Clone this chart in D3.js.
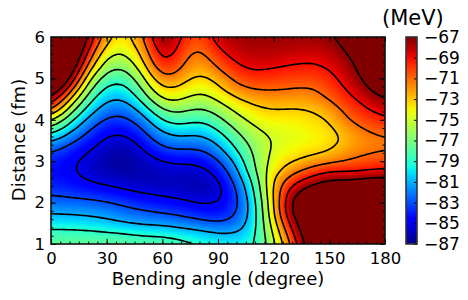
<!DOCTYPE html>
<html lang='en'>
<head>
<meta charset="utf-8">
<style>
html, body { margin: 0; background: #fff; }
svg { display: block; }
text { font-family: "DejaVu Sans"; fill: #000; }
.axis path { display: none; }
.axis line { stroke: #000; stroke-width: 1; }
.axis text { font-size: 16.5px; }
.cb text { font-size: 17px; }
.level { fill: none; stroke: #000; stroke-width: 1.6px; }
</style>
</head>
<body>
<svg width="468" height="300"></svg>
<script src="https://d3js.org/d3.v7.min.js"></script>
<script>
// distance runs 1 -> 6 fm in .25 steps, one list per bending angle
var angles = d3.range(0, 190, 10),
    distances = d3.range(1, 6.25, 0.25);

var a0 = [-77.7,-78.4,-79.8,-81.1,-82.3,-83.3,-84,-84.3,-83.9,-82.8,-80.6,-77.7,-74.3,-70,-66.7,-64,-62,-61,-60,-60,-60],
    a10 = [-77.6,-78.4,-79.8,-81.2,-82.5,-83.5,-84.3,-84.7,-84.6,-84,-82.6,-80.6,-78.5,-76,-73,-69.2,-66,-64,-63,-62,-62],
    a20 = [-77.5,-78.5,-80,-81.4,-82.5,-83.9,-85,-85.7,-85.6,-84.9,-84,-83,-81.6,-80,-78.5,-76.9,-75,-72.3,-70.2,-68.4,-66.8],
    a30 = [-77.5,-78.7,-80.4,-81.7,-82.8,-84.3,-85.4,-86,-86.3,-86.1,-85.5,-84.6,-83.5,-82.3,-81,-79.7,-78.4,-77,-75.7,-74.3,-73],
    a40 = [-77.7,-78.8,-81,-82.3,-83.4,-84.8,-85.7,-86.4,-86.7,-86.4,-85.8,-84.7,-83.6,-82.5,-81.2,-80,-78.7,-77.2,-75.7,-74.6,-74.1],
    a50 = [-77.9,-79.3,-81.4,-82.7,-84,-85.2,-86,-86.2,-85.9,-85.2,-84.2,-83.1,-82,-80.2,-78.3,-76.7,-75.4,-74,-73,-72.2,-71.2],
    a60 = [-78,-79.2,-81.5,-83,-84.4,-85.4,-86,-85.7,-85.1,-83.4,-82,-80.6,-78.5,-76.6,-74.4,-72.6,-70.6,-68.8,-67.4,-66.5,-65.5],
    a70 = [-78.3,-79.8,-82,-83.4,-84.7,-85.6,-86,-85.6,-84.8,-83.1,-81.6,-79.7,-78,-76.3,-74.7,-73.4,-72.1,-71,-70.4,-69.7,-69.3],
    a80 = [-79,-80.2,-82.4,-84,-85.2,-86,-86.3,-85.8,-84.8,-83.4,-82,-80.6,-79.1,-77.5,-76.1,-74.9,-73.9,-72.9,-72.3,-71.6,-70.9],
    a90 = [-79.5,-80.9,-83,-84.5,-85.1,-86,-85.6,-84.6,-83.4,-82,-80.6,-79.1,-77.6,-76.2,-74.8,-73.5,-72.4,-70.9,-69.8,-68.7,-67.7],
    a100 = [-79.6,-81,-82.5,-83.3,-83.8,-83.4,-82.6,-81.7,-80.6,-79,-77.9,-76.8,-75.6,-74.5,-73.2,-71.4,-70.3,-69.2,-68.5,-67.9,-67.5],
    a110 = [-79.5,-79.7,-79.9,-80,-79.7,-79,-78.5,-76.8,-76.5,-76.4,-76,-75.2,-74.3,-73.4,-72.2,-70.8,-69.6,-68.6,-68,-67.6,-67.4],
    a120 = [-75.6,-74.9,-74,-73.2,-73,-72.6,-72.4,-73.7,-74.2,-74.5,-74.8,-74.4,-73.8,-72.9,-71.9,-70.8,-69.9,-69,-68.2,-67.7,-67.4],
    a130 = [-70.7,-69.3,-67.8,-66,-66,-67.3,-69.5,-71.5,-73.2,-74,-74.4,-74.4,-74,-73.2,-72.1,-71,-70,-69.3,-68.4,-67.8,-67.4],
    a140 = [-65,-64,-64,-64,-64,-65.5,-67.9,-70,-72.3,-73.6,-74.1,-74,-73.5,-73,-72.1,-71.3,-70.2,-69.4,-68.8,-68,-67.4],
    a150 = [-63,-63,-63,-63,-63,-63,-66.8,-68.7,-71.6,-73.2,-73.8,-73.6,-73.1,-72.3,-70.8,-70.2,-69.6,-69,-68.3,-67.8,-67.3],
    a160 = [-62,-62,-62,-62,-62,-62,-67.2,-69,-71,-71.9,-72.6,-72.1,-70.9,-70.2,-69.5,-68.8,-68.2,-67.8,-67.3,-66.7,-66.2],
    a170 = [-61,-61,-61,-61,-61,-61,-66.3,-68.9,-70.4,-71.3,-71.7,-70.9,-70,-69.2,-68.3,-67.3,-66.5,-66,-65.5,-65,-64.5],
    a180 = [-60,-60,-60,-60,-60,-60,-66,-68.7,-70,-71.1,-71.3,-70.4,-69.3,-68.1,-66.9,-65.5,-64.5,-64,-63.5,-63,-63];

var energy = [a0,a10,a20,a30,a40,a50,a60,a70,a80,a90,a100,a110,a120,a130,a140,a150,a160,a170,a180];

var levels = [-85,-83,-81,-79,-77,-75,-73,-71,-69,-67],
    cbTicks = [-87,-85,-83,-81,-79,-77,-75,-73,-71,-69,-67],
    xTicks = [0,30,60,90,120,150,180],
    yTicks = [1,2,3,4,5,6];

var svg = d3.select("svg"),
    plotL = 51, plotR = 385, plotT = 37, plotB = 244,
    cbL = 406, cbR = 417;

var x = d3.scaleLinear().domain([0, 180]).range([plotL, plotR]),
    y = d3.scaleLinear().domain([1, 6]).range([plotB, plotT]),
    cbY = d3.scaleLinear().domain([-87, -67]).range([plotB, plotT]);

// matplotlib jet
var jetR = d3.scaleLinear().domain([0,.35,.66,.89,1]).range([0,0,1,1,.5]).clamp(true),
    jetG = d3.scaleLinear().domain([0,.125,.375,.64,.91,1]).range([0,0,1,1,0,0]).clamp(true),
    jetB = d3.scaleLinear().domain([0,.11,.34,.65,1]).range([.5,1,1,0,0]).clamp(true);

function jet(v) {
  var t = (v + 87) / 20;
  return d3.rgb(jetR(t) * 255, jetG(t) * 255, jetB(t) * 255).formatHex();
}

// repeat each sample k times and blur, so the drawn field is smooth, not facetted
var k = 6, nx = angles.length * k, ny = distances.length * k, flat = [];
for (var j = 0; j < ny; j++) {
  for (var i = 0; i < nx; i++) {
    flat.push(energy[Math.floor(i / k)][Math.floor(j / k)]);
  }
}
d3.blur2({data: flat, width: nx, height: ny}, 3);

// contour coords put a sample at (i + .5) * k
var gx = d3.scaleLinear().domain([k / 2, nx - k / 2]).range([plotL, plotR]),
    gy = d3.scaleLinear().domain([k / 2, ny - k / 2]).range([plotB, plotT]);

var contours = d3.contours().size([nx, ny]);

var fieldPath = d3.geoPath(d3.geoTransform({
  point: function(px, py) { this.stream.point(gx(px), gy(py)); }
}));

svg.append("clipPath").attr("id", "plot")
  .append("rect")
    .attr("x", plotL).attr("y", plotT)
    .attr("width", plotR - plotL).attr("height", plotB - plotT);

var plot = svg.append("g").attr("clip-path", "url(#plot)");

plot.append("rect")
    .attr("x", plotL).attr("y", plotT)
    .attr("width", plotR - plotL).attr("height", plotB - plotT)
    .attr("fill", jet(-87));

plot.selectAll("path.band")
  .data(contours.thresholds(d3.range(-87, -66.95, .1))(flat))
  .enter().append("path")
    .attr("class", "band")
    .attr("d", fieldPath)
    .attr("fill", function(d) { return jet(d.value); });

plot.selectAll("path.level")
  .data(contours.thresholds(levels)(flat))
  .enter().append("path")
    .attr("class", "level")
    .attr("d", fieldPath);

// ticks all round, pointing in
function addAxis(axis, tx, ty) {
  return svg.append("g").attr("class", "axis")
      .attr("transform", "translate(" + tx + "," + ty + ")")
      .call(axis);
}

var xMinor = d3.range(0, 185, 5), yMinor = d3.range(1, 6.1, .2);

addAxis(d3.axisBottom(x).tickValues(xMinor).tickSize(-2.5).tickFormat(""), 0, plotB);
addAxis(d3.axisTop(x).tickValues(xMinor).tickSize(-2.5).tickFormat(""), 0, plotT);
addAxis(d3.axisLeft(y).tickValues(yMinor).tickSize(-2.5).tickFormat(""), plotL, 0);
addAxis(d3.axisRight(y).tickValues(yMinor).tickSize(-2.5).tickFormat(""), plotR, 0);
addAxis(d3.axisBottom(x).tickValues(xTicks).tickSize(-5).tickPadding(8.3), 0, plotB);
addAxis(d3.axisTop(x).tickValues(xTicks).tickSize(-5).tickFormat(""), 0, plotT);
addAxis(d3.axisLeft(y).tickValues(yTicks).tickSize(-5).tickPadding(6).tickFormat(d3.format("d")), plotL, 0);
addAxis(d3.axisRight(y).tickValues(yTicks).tickSize(-5).tickFormat(""), plotR, 0);

svg.append("rect")
    .attr("x", plotL).attr("y", plotT)
    .attr("width", plotR - plotL).attr("height", plotB - plotT)
    .attr("fill", "none").attr("stroke", "#111").attr("stroke-width", 1.6);

svg.append("text")
    .attr("x", 218).attr("y", 285)
    .attr("text-anchor", "middle")
    .style("font-size", "18px")
    .text("Bending angle (degree)");

svg.append("text")
    .attr("transform", "translate(25,140) rotate(-90)")
    .attr("text-anchor", "middle")
    .style("font-size", "18px")
    .text("Distance (fm)");

// colorbar
var grad = svg.append("defs").append("linearGradient").attr("id", "jet")
    .attr("x1", 0).attr("x2", 0).attr("y1", 1).attr("y2", 0);

grad.selectAll("stop")
  .data(d3.range(-87, -66.5, .5))
  .enter().append("stop")
    .attr("offset", function(d) { return (d + 87) / 20; })
    .attr("stop-color", jet);

svg.append("rect")
    .attr("x", cbL).attr("y", plotT)
    .attr("width", cbR - cbL).attr("height", plotB - plotT)
    .attr("fill", "url(#jet)");

addAxis(d3.axisRight(cbY).tickValues(cbTicks).tickSize(-3).tickPadding(7)
    .tickFormat(function(d) { return "\u2212" + Math.abs(d); }), cbR, 0)
    .classed("cb", true);

svg.append("rect")
    .attr("x", cbL).attr("y", plotT)
    .attr("width", cbR - cbL).attr("height", plotB - plotT)
    .attr("fill", "none").attr("stroke", "#333").attr("stroke-width", 1.6);

svg.append("text")
    .attr("x", 382).attr("y", 25)
    .style("font-size", "21px")
    .text("(MeV)");
</script>
</body>
</html>
